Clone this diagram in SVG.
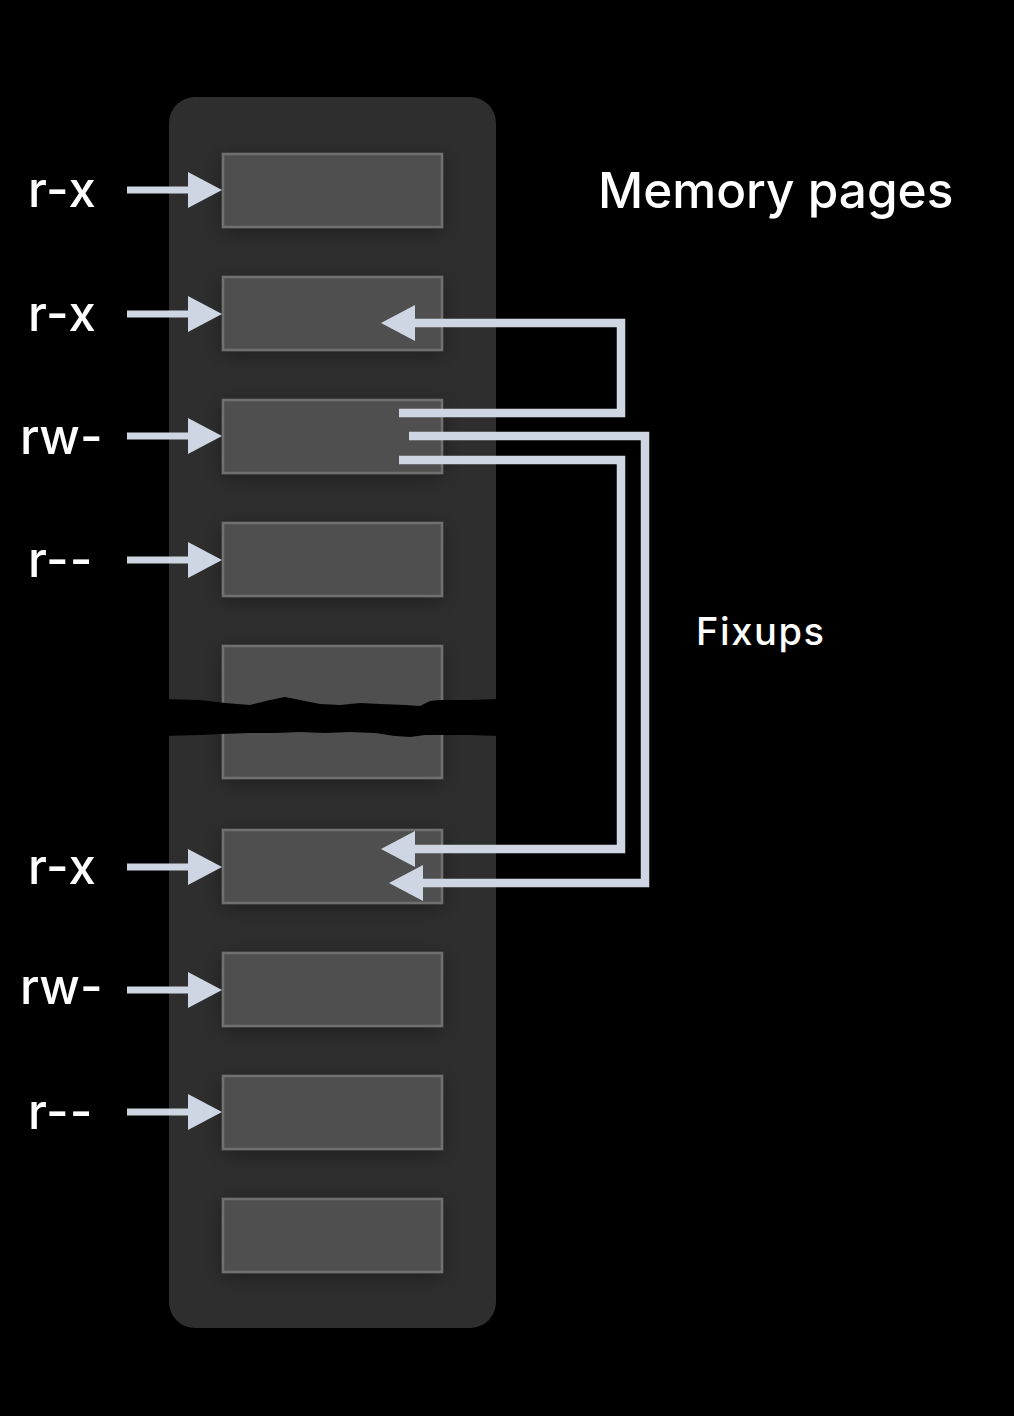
<svg xmlns="http://www.w3.org/2000/svg" width="1014" height="1416" viewBox="0 0 1014 1416">
<defs>
<filter id="sh" x="-30%" y="-50%" width="160%" height="200%">
<feDropShadow dx="0" dy="4" stdDeviation="10" flood-color="#000" flood-opacity="0.35"/>
</filter>
<marker id="ah" markerUnits="userSpaceOnUse" markerWidth="34" markerHeight="36" viewBox="0 0 34 36" refX="1" refY="18" orient="auto" overflow="visible">
<path d="M0,0 L34,18 L0,36 Z" fill="#cdd6e2"/>
</marker>
</defs>
<style>
.page{fill:#4f504f;stroke:#6f706f;stroke-width:2.5;filter:url(#sh)}
.lbl{font-family:Inter,"Liberation Sans",sans-serif;font-size:49px;font-weight:500;fill:#fff;letter-spacing:1px}
.lbl2{font-family:Inter,"Liberation Sans",sans-serif;font-size:49px;font-weight:500;fill:#fff}
.in{stroke:#cdd6e2;stroke-width:7;fill:none;marker-end:url(#ah)}
.fx{stroke:#cdd6e2;stroke-width:8.5;fill:none;marker-end:url(#ah);stroke-linejoin:miter}
</style>
<rect width="1014" height="1416" fill="#000"/>
<g id="container">
<rect x="169" y="97" width="327" height="1231" rx="26" fill="#2d2e2d"/>
</g>
<g id="pages">
<rect id="p1" class="page" x="223" y="154" width="219" height="73"/>
<rect id="p2" class="page" x="223" y="277" width="219" height="73"/>
<rect id="p3" class="page" x="223" y="400" width="219" height="73"/>
<rect id="p4" class="page" x="223" y="523" width="219" height="73"/>
<rect id="p5" class="page" x="223" y="646" width="219" height="132"/>
<rect id="p6" class="page" x="223" y="830" width="219" height="73"/>
<rect id="p7" class="page" x="223" y="953" width="219" height="73"/>
<rect id="p8" class="page" x="223" y="1076" width="219" height="73"/>
<rect id="p9" class="page" x="223" y="1199" width="219" height="73"/>
</g>
<g id="tear">
<path d="M160,699 L200,700 L225,703 L250,705 L270,700 L285,697 L300,700 L320,704 L340,705 L360,703 L380,704 L405,705 L420,706 L430,701 L440,700 L470,700 L500,699 L500,736 L470,735 L440,735 L425,735 L410,737 L395,736 L375,733 L350,732 L325,733 L300,732 L275,733 L250,733 L220,734 L200,735 L160,736 Z" fill="#000"/>
</g>
<g id="labels">
<text class="lbl" x="28" y="207">r-x</text>
<text class="lbl" x="28" y="331">r-x</text>
<text class="lbl2" x="20" y="454">rw-</text>
<text class="lbl" x="28" y="577">r--</text>
<text class="lbl" x="28" y="884">r-x</text>
<text class="lbl2" x="20" y="1004">rw-</text>
<text class="lbl" x="28" y="1129">r--</text>
<text x="598" y="208" font-family="Inter,'Liberation Sans',sans-serif" font-size="49.5" font-weight="500" fill="#fff">Memory pages</text>
<text x="696" y="645" font-family="Inter,'Liberation Sans',sans-serif" font-size="38" font-weight="500" fill="#fff" letter-spacing="1.6">Fixups</text>
</g>
<g id="connectors">
<line class="in" x1="127" y1="190" x2="189" y2="190"/>
<line class="in" x1="127" y1="314" x2="189" y2="314"/>
<line class="in" x1="127" y1="436" x2="189" y2="436"/>
<line class="in" x1="127" y1="560" x2="189" y2="560"/>
<line class="in" x1="127" y1="867" x2="189" y2="867"/>
<line class="in" x1="127" y1="990" x2="189" y2="990"/>
<line class="in" x1="127" y1="1112" x2="189" y2="1112"/>
<path class="fx" d="M399,413 L621,413 L621,323 L414,323"/>
<path class="fx" d="M409,436 L645,436 L645,883 L422,883"/>
<path class="fx" d="M399,460 L621,460 L621,849 L414,849"/>
</g>
</svg>
